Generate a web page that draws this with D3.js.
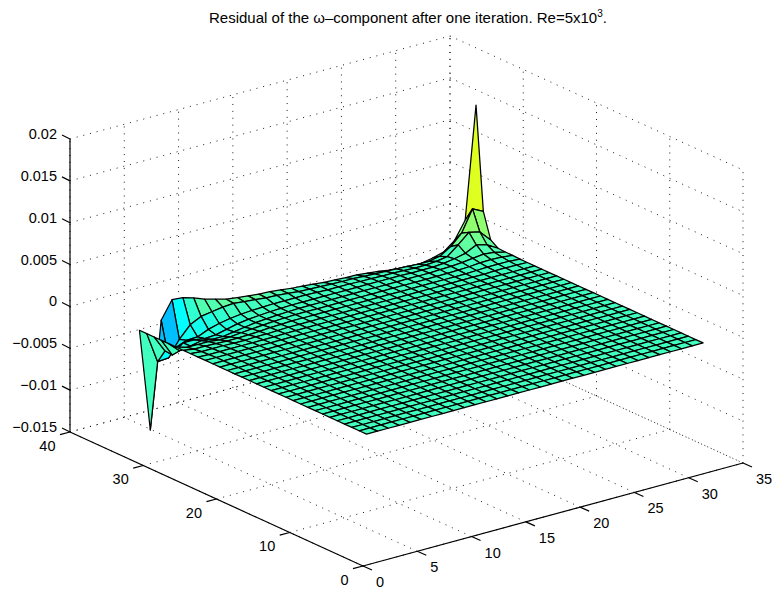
<!DOCTYPE html>
<html>
<head>
<meta charset="utf-8">
<script src="https://cdn.jsdelivr.net/npm/d3@7"></script>
<style>
  html, body { margin: 0; background: #fff; }
  text { font-family: "Liberation Sans", Arial, sans-serif; fill: #000; }
</style>
</head>
<body>
<div id="container"></div>
<script>
/**
 * DATA
 * */
const xTicks = [0, 5, 10, 15, 20, 25, 30, 35];
const yTicks = [0, 10, 20, 30, 40];
const zTicks = [-0.015, -0.01, -0.005, 0, 0.005, 0.01, 0.015, 0.02];
const zTickLabels = ["\u22120.015", "\u22120.01", "\u22120.005", "0", "0.005", "0.01", "0.015", "0.02"];

// grid nodes
const xNodes = [1,2,3,4,5,6,7,8,9,10,11,12,13,14,15,16,17,18,19,20,21,22,23,24,25,26,27,28,29,30,31,32];
const yNodes = [1,2,3,4,5,6,7,8,9,10,11,12,13,14,15,16,17,18,19,20,21,22,23,24,25,26,27,28,29,30,31,32];

// residual, in units of 1e-3, one row per y node
const zRows = [
  [0,0,0,0,0,0,0,0,0,0,0,0,0,0,0,0,0,0,0,0,0,0,0,0,0,0,0,0,0,0,0,0],
  [0,0,0,0,0,0,0,0,0,0,0,0,0,0,0,0,0,0,0,0,0,0,0,0,0,0,0,0,0,0,0,0],
  [0,0,0,0,0,0,0,0,0,0,0,0,0,0,0,0,0,0,0,0,0,0,0,0,0,0,0,0,0,0,0,0],
  [0,0,0,0,0,0,0,0,0,0,0,0,0,0,0,0,0,0,0,0,0,0,0,0,0,0,0,0,0,0,0,0],
  [0,0,0,0,0,0,0,0,0,0,0,0,0,0,0,0,0,0,0,0,0,0,0,0,0,0,0,0,0,0,0,0],
  [0,0,0,0,0,0,0,0,0,0,0,0,0,0,0,0,0,0,0,0,0,0,0,0,0,0,0,0,0,0,0,0],
  [0,0,0,0,0,0,0,0,0,0,0,0,0,0,0,0,0,0,0,0,0,0,0,0,0,0,0,0,0,0,0,0],
  [0,0,0,0,0,0,0,0,0,0,0,0,0,0,0,0,0,0,0,0,0,0,0,0,0,0,0,0,0,0,0,0],
  [0,0,0,0,0,0,0,0,0,0,0,0,0,0,0,0,0,0,0,0,0,0,0,0,0,0,0,0,0,0,0,0],
  [0,0,0,0,0,0,0,0,0,0,0,0,0,0,0,0,0,0,0,0,0,0,0,0,0,0,0,0,0,0,0,0],
  [0,0,0,0,0,0,0,0,0,0,0,0,0,0,0,0,0,0,0,0,0,0,0,0,0,0,0,0,0,0,0,0],
  [0,0,0,0,0,0,0,0,0,0,0,0,0,0,0,0,0,0,0,0,0,0,0,0,0,0,0,0,0,0,0,0],
  [0,0,0,0,0,0,0,0,0,0,0,0,0,0,0,0,0,0,0,0,0,0,0,0,0,0,0,0,0,0,0,0],
  [0,0,0,0,0,0,0,0,0,0,0,0,0,0,0,0,0,0,0,0,0,0,0,0,0,0,0,0,0,0,0,0],
  [0,0,0,0,0,0,0,0,0,0,0,0,0,0,0,0,0,0,0,0,0,0,0,0,0,0,0,0,0,0,0,0],
  [0,0,0,0,0,0,0,0,0,0,0,0,0,0,0,0,0,0,0,0,0,0,0,0,0,0,0,0,0,0,0,0],
  [0,0,0,0,0,0,0,0,0,0,0,0,0,0,0,0,0,0,0,0,0,0,0,0,0,0,0,0,0,0,0,0],
  [0,0,0,0,0,0,0,0,0,0,0,0,0,0,0,0,0,0,0,0,0,0,0,0,0,0,0,0,0,0,0,0],
  [0,0,0,0,0,0,0,0,0,0,0,0,0,0,0,0,0,0,0,0,0,0,0,0,0,0,0,0,0,0,0,0],
  [0,0,0,0,0,0,0,0,0,0,0,0,0,0,0,0,0,0,0,0,0,0,0,0,0,0,0,0,0,0,0,0],
  [0,0,0,0,0,0,0,0,0,0,0,0,0,0,0,0,0,0,0,0,0,0,0,0,0,0,0,0,0,0,0,0],
  [0,0,0,0,0,0,0,0,0,0,0,0,0,0,0,0,0,0,0,0,0,0,0,0,0,0,0,0,0,0,0,0],
  [0,0,0,0,0,0,0,0,0,0,0,0,0,0,0,0,0,0,0,0,0,0,0,0,0,0,0,0,0,0,0,0],
  [0,-.05,-.05,-.05,-.05,-.05,-.05,-.05,0,0,0,0,0,0,0,0,0,0,0,0,0,0,0,0,0,0,0,0,0,0,0,0],
  [0,-.1,-.1,-.1,-.15,-.15,-.1,-.1,-.05,0,0,0,0,0,0,0,0,0,0,0,0,0,0,0,0,0,0,0,.05,.05,.05,0],
  [0,-.2,-.2,-.25,-.3,-.3,-.25,-.2,-.1,-.05,0,0,0,0,0,0,0,0,0,0,0,0,0,0,0,0,0,.05,.1,.1,.1,0],
  [0,-.4,-.4,-.4,-.55,-.55,-.4,-.3,-.2,-.1,-.05,0,0,0,0,0,0,0,0,0,0,0,0,0,0,0,.05,.1,.2,.25,.2,.05],
  [0,-1.2,-1,-.7,-.9,-.9,-.7,-.5,-.3,-.2,-.1,-.05,0,0,0,0,0,0,0,0,0,0,0,0,0,.05,.1,.2,.35,.5,.35,.05],
  [0,-2.1,-1,-1,-1.2,-1.1,-.8,-.5,-.3,-.2,-.1,-.05,0,0,0,0,0,0,0,0,0,0,0,-.05,-.05,-.05,.05,.25,.55,1.2,.85,.1],
  [0,-2,-2,-1.45,-1.4,-.85,-.5,-.25,-.1,0,.05,.1,.1,.1,.1,.05,0,0,0,-.05,-.05,-.1,-.1,-.15,-.2,-.2,-.1,.1,1.15,2.3,2,.7],
  [0,-3.7,-3.6,-1.75,-.35,.3,.5,.7,.8,.65,.55,.4,.35,.25,.1,.05,0,-.05,-.1,-.1,-.2,-.25,-.3,-.35,-.4,-.5,-.5,-.25,.55,1.8,4.35,3.7],
  [0,-12.26,.5,2.6,2.5,2.1,1.6,1.25,.9,.75,.6,.45,.4,.25,.1,0,-.1,-.25,-.3,-.4,-.4,-.55,-.7,-.9,-1,-1.1,-1.1,-.85,-.5,.5,2.6,16]
];

/**
 * CONSTANTS
 * */
const width = 778,
  height = 590,
  originX = 363,
  originY = 566;

// oblique projection of the three data axes onto the page
const xToH = d3.scaleLinear().domain([0, 35]).range([0, 380]);
const xToV = d3.scaleLinear().domain([0, 35]).range([0, -103]);
const yToH = d3.scaleLinear().domain([0, 40]).range([0, -293]);
const yToV = d3.scaleLinear().domain([0, 40]).range([0, -134]);
const zToV = d3.scaleLinear().domain([-0.015, 0.02]).range([0, -293]);

const project = (x, y, z) => [
  originX + xToH(x) + yToH(y),
  originY + xToV(x) + yToV(y) + zToV(z)
];

const xMax = d3.max(xTicks), yMax = d3.max(yTicks);
const zMin = d3.min(zTicks), zMax = d3.max(zTicks);
const floorZ = zMin;

// surface value in data units
const zAt = (i, j) => zRows[j][i] / 1000;

// jet colormap with 64 levels, limits taken from the data
const dataMin = d3.min(zRows, r => d3.min(r)) / 1000;
const dataMax = d3.max(zRows, r => d3.max(r)) / 1000;
const jet = d3.scaleLinear()
  .domain([0, 7, 23, 39, 55, 63])
  .range(["#000090", "#0000ff", "#00ffff", "#ffff00", "#ff0000", "#900000"]);
const levelOf = d3.scaleLinear().domain([dataMin, dataMax]).range([0, 64]);
const color = z => jet(Math.min(63, Math.floor(levelOf(z))));

const svg = d3.select("#container")
  .append("svg")
  .attr("width", width)
  .attr("height", height)
  .style("display", "block");

/**
 * GRID
 * */
const seg = (a, b) => ({ a, b });
const gridSegs = [];
xTicks.forEach(x => {
  gridSegs.push(seg(project(x, 0, floorZ), project(x, yMax, floorZ)));
  gridSegs.push(seg(project(x, yMax, floorZ), project(x, yMax, zMax)));
});
yTicks.forEach(y => {
  gridSegs.push(seg(project(0, y, floorZ), project(xMax, y, floorZ)));
  gridSegs.push(seg(project(xMax, y, floorZ), project(xMax, y, zMax)));
});
zTicks.forEach(z => {
  gridSegs.push(seg(project(0, yMax, z), project(xMax, yMax, z)));
  gridSegs.push(seg(project(xMax, yMax, z), project(xMax, 0, z)));
});

svg.append("g")
  .selectAll("line")
  .data(gridSegs)
  .join("line")
  .attr("x1", d => d.a[0])
  .attr("y1", d => d.a[1])
  .attr("x2", d => d.b[0])
  .attr("y2", d => d.b[1])
  .attr("stroke", "#000")
  .attr("stroke-width", 0.9)
  .attr("stroke-dasharray", "1 5.9");

/**
 * SURFACE, far cells first
 * */
const cells = [];
for (let j = yNodes.length - 2; j >= 0; j--) {
  for (let i = xNodes.length - 2; i >= 0; i--) {
    cells.push({ i, j });
  }
}

svg.append("g")
  .selectAll("polygon")
  .data(cells)
  .join("polygon")
  .attr("points", ({ i, j }) => [
    project(xNodes[i], yNodes[j], zAt(i, j)),
    project(xNodes[i + 1], yNodes[j], zAt(i + 1, j)),
    project(xNodes[i + 1], yNodes[j + 1], zAt(i + 1, j + 1)),
    project(xNodes[i], yNodes[j + 1], zAt(i, j + 1))
  ].map(p => p.join(",")).join(" "))
  .attr("fill", ({ i, j }) => color(zAt(i, j)))
  .attr("stroke", "#000")
  .attr("stroke-width", 1.25)
  .attr("stroke-linejoin", "round");

/**
 * AXES
 * */
const axes = svg.append("g");
const axisLine = (a, b) => axes.append("line")
  .attr("x1", a[0]).attr("y1", a[1])
  .attr("x2", b[0]).attr("y2", b[1])
  .attr("stroke", "#000")
  .attr("stroke-width", 1.2);

axisLine(project(0, 0, floorZ), project(xMax, 0, floorZ));
axisLine(project(0, 0, floorZ), project(0, yMax, floorZ));
axisLine(project(0, yMax, floorZ), project(0, yMax, zMax));

const label = (pos, dx, dy, anchor, str) => axes.append("text")
  .attr("x", pos[0] + dx)
  .attr("y", pos[1] + dy)
  .attr("text-anchor", anchor)
  .attr("dominant-baseline", "central")
  .style("font-size", "14.5px")
  .text(str);

xTicks.forEach(x => {
  const p = project(x, 0, floorZ);
  axisLine(p, [p[0] + 9, p[1] + 4]);
  label(p, 13, 16, "start", x);
});
yTicks.forEach(y => {
  const p = project(0, y, floorZ);
  axisLine(p, [p[0] - 10, p[1] + 2.7]);
  label(p, -14.5, 13.5, "end", y);
});
zTicks.forEach((z, k) => {
  const p = project(0, yMax, z);
  axisLine(p, [p[0] - 8, p[1] - 4]);
  label(p, -13, -5, "end", zTickLabels[k]);
});

/**
 * TITLE
 * */
const title = svg.append("text")
  .attr("x", 209)
  .attr("y", 23)
  .style("font-size", "15px");
title.append("tspan").text("Residual of the \u03c9\u2013component after one iteration. Re=5x10");
title.append("tspan").attr("dy", -6).style("font-size", "10px").text("3");
title.append("tspan").attr("dy", 6).text(".");
</script>
</body>
</html>
